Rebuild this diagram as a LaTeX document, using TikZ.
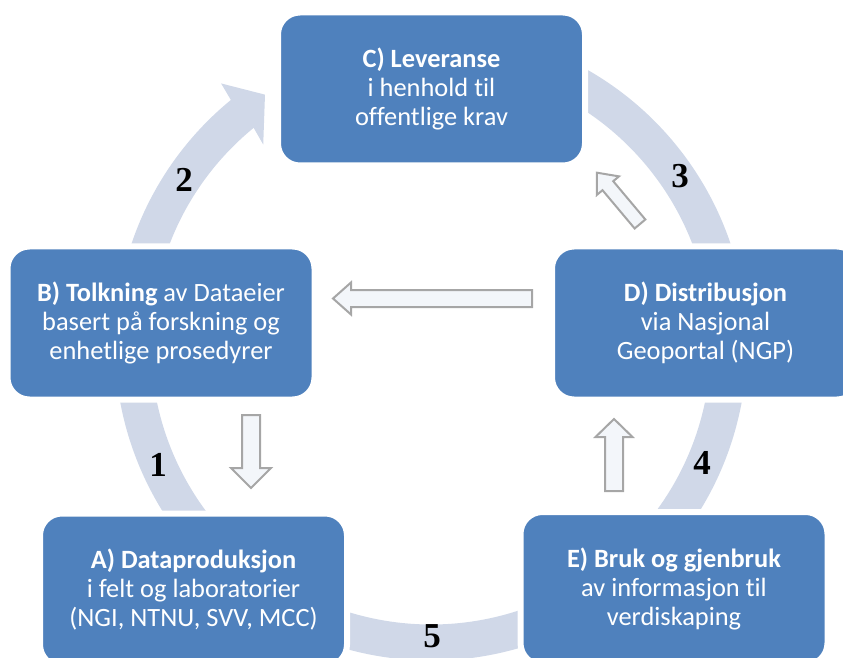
\documentclass[tikz,border=0pt]{standalone}
\usepackage{fontspec}
\setmainfont[Ligatures=NoCommon]{Carlito}
\newfontfamily\numfont{Liberation Serif}
\definecolor{boxblue}{HTML}{4F81BD}
\definecolor{ringgray}{HTML}{D0D8E8}
\definecolor{hollowfill}{HTML}{F3F6FA}
\definecolor{hollowline}{HTML}{A6A6A6}

% hollow block arrow: tail point, angle, length, shaft half width, head half width, head length
\newcommand{\hollowarrow}[6]{%
  \begin{scope}[shift={#1}, rotate=#2]
    \draw[hollow] (0,-#4) -- ({#3-#6},-#4) -- ({#3-#6},-#5) -- (#3,0)
      -- ({#3-#6},#5) -- ({#3-#6},#4) -- (0,#4) -- cycle;
  \end{scope}}

\begin{document}
\begin{tikzpicture}[x=1pt, y=1pt,
  stage/.style={rectangle, rounded corners=22pt, fill=boxblue, draw=white,
    line width=6pt, minimum width=307pt, minimum height=153pt, inner sep=0pt,
    text=white, align=center, font=\fontsize{26.4}{29}\selectfont},
  stepnum/.style={font=\numfont\bfseries\fontsize{35}{35}\selectfont, inner sep=0pt},
  hollow/.style={fill=hollowfill, draw=hollowline, line width=2pt, line join=miter},
  ring/.style={fill=ringgray}]
\useasboundingbox (0,0) rectangle (843,657);
\clip (0,0) rectangle (843,657);

% circular band with its arrowhead
\begin{scope}[shift={(431,312.5)}]
  \fill[ring] (80:316) arc[start angle=80, end angle=-230.7, radius=316]
    -- (128.8:335) -- (123.6:300) -- (130.0:261)
    -- (-230.7:280) arc[start angle=-230.7, end angle=80, radius=280] -- cycle;
\end{scope}

% step numbers on the band
\node[stepnum] (n1) at (158,192) {1};
\node[stepnum] (n2) at (184,477) {2};
\node[stepnum] (n3) at (680,481) {3};
\node[stepnum] (n4) at (702,194) {4};
\node[stepnum] (n5) at (432,21) {5};

% stages
\node[stage] (C) at (431.5,568) {\textbf{C) Leveranse}\\i henhold til\\offentlige krav};
\node[stage] (B) at (161,334) {\textbf{B) Tolkning} av Dataeier\\basert på forskning og\\enhetlige prosedyrer};
\node[stage] (D) at (705.5,334) {\textbf{D) Distribusjon}\\via Nasjonal\\Geoportal (NGP)};
\node[stage] (A) at (193.5,67) {\textbf{A) Dataproduksjon}\\i felt og laboratorier\\(NGI, NTNU, SVV, MCC)};
\node[stage] (E) at (674,68.5) {\textbf{E) Bruk og gjenbruk}\\av informasjon til\\verdiskaping};

% hollow arrows between stages
\hollowarrow{(532,358.5)}{180}{199}{8.5}{16}{18}
\hollowarrow{(251,242)}{-90}{73}{9}{20}{20}
\hollowarrow{(614,166)}{90}{72}{9}{18.5}{18}
\hollowarrow{(640,433)}{130}{67}{7}{14.5}{17}
\end{tikzpicture}
\end{document}
